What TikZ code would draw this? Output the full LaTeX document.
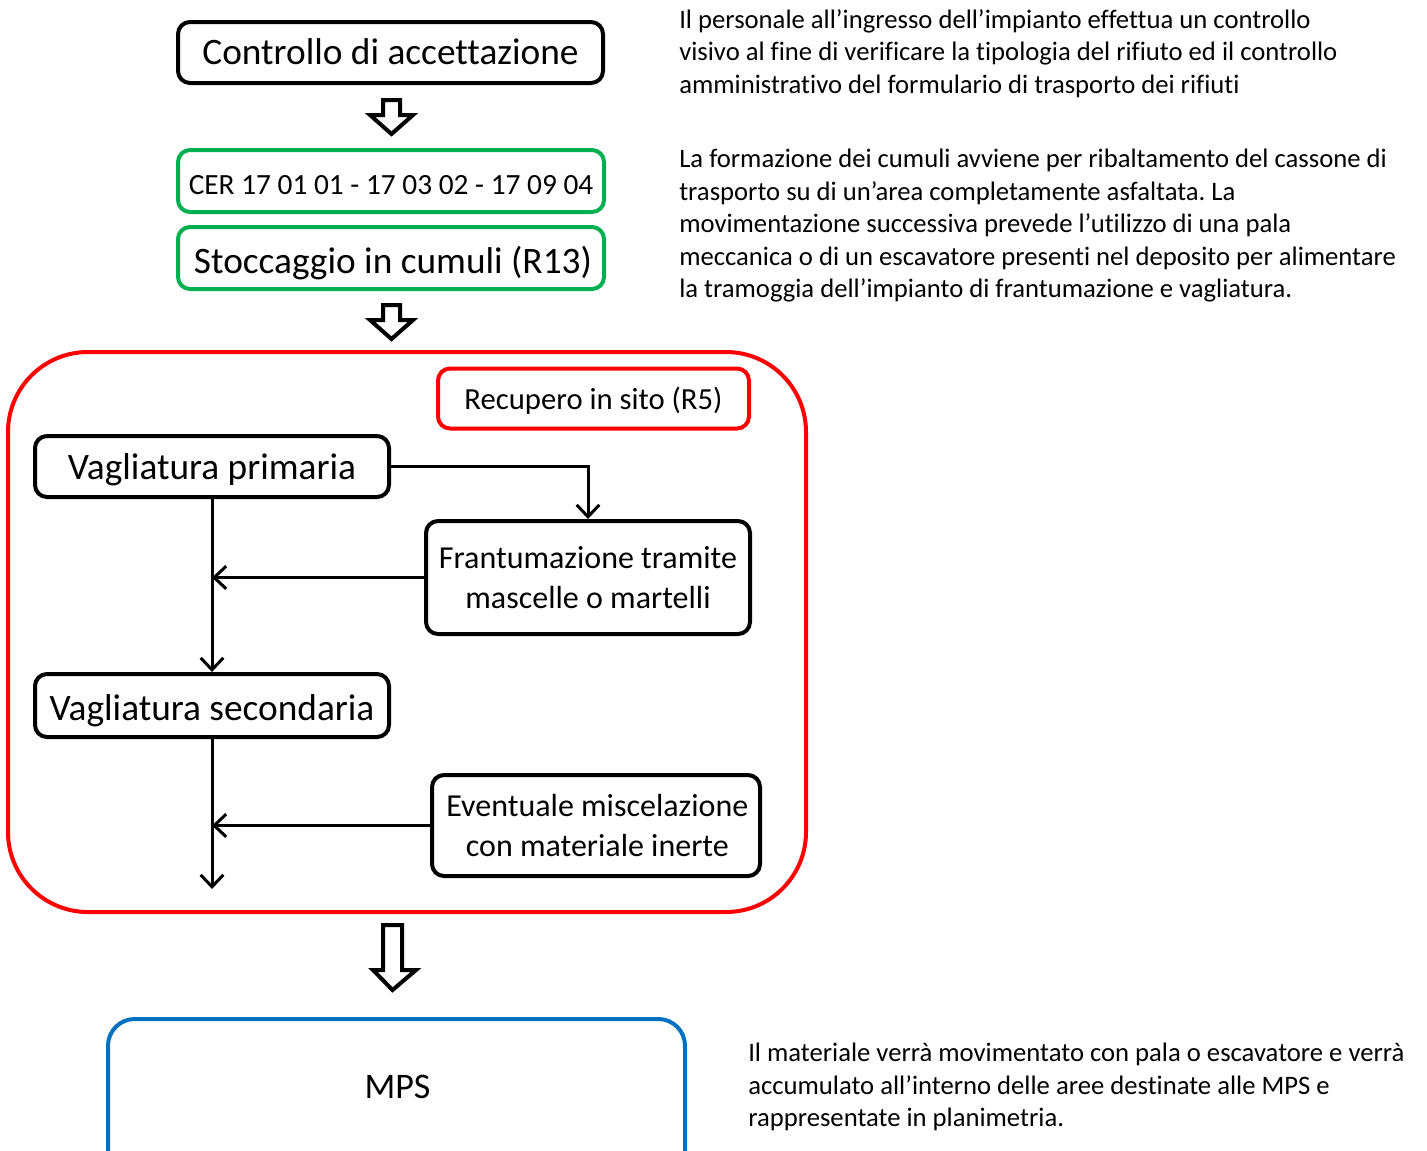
\documentclass[tikz,border=0pt]{standalone}
\usepackage{fontspec}
\setmainfont{Carlito}[Ligatures={NoCommon}]
\usetikzlibrary{arrows.meta}
\definecolor{cgreen}{RGB}{0,176,80}
\definecolor{cred}{RGB}{255,0,0}
\definecolor{cblue}{RGB}{0,112,192}
\frenchspacing
\begin{document}
\begin{tikzpicture}[x=0.75pt,y=-0.75pt,
  box/.style={draw=black,line width=3pt,rounded corners=9pt,inner sep=0pt,align=center},
  gbox/.style={box,draw=cgreen},
  rbox/.style={box,draw=cred},
  conn/.style={line width=2.25pt,-{Straight Barb[length=9pt,width=17pt,line width=2.25pt]}},
  blockarrow/.style={draw=black,fill=white,line width=3pt,line join=miter},
  para/.style={anchor=north west,inner sep=0pt,align=left,font=\fontsize{20pt}{24.4pt}\selectfont}]
\useasboundingbox (0,0) rectangle (1427,1150);
\clip (0,0) rectangle (1427,1150);
% top boxes
\node[box,minimum width=318.75pt,minimum height=45.75pt,text height=17.25pt,text depth=0pt,font=\fontsize{28pt}{33pt}\selectfont] (ctrl) at (390.5,52.5) {Controllo di accettazione};
\node[gbox,minimum width=319.5pt,minimum height=46.5pt,text height=20.25pt,text depth=0pt,font=\fontsize{22pt}{26pt}\selectfont] (cer) at (391,181) {CER 17 01 01 - 17 03 02 - 17 09 04};
\node[gbox,minimum width=319.5pt,minimum height=46.5pt,text height=22.5pt,text depth=0pt,font=\fontsize{28pt}{33pt}\selectfont] (stoc) at (391,258) {\hspace*{3pt}Stoccaggio in cumuli (R13)};
% block arrows
\draw[blockarrow] (383,100) -- (400,100) -- (400,115) -- (413,115) -- (391.5,134) -- (370,115) -- (383,115) -- cycle;
\draw[blockarrow] (383,305) -- (400,305) -- (400,320) -- (413,320) -- (391.5,339) -- (370,320) -- (383,320) -- cycle;
% red container
\draw[cred,line width=3pt,rounded corners=60pt] (8,352) rectangle (806,912);
\node[rbox,minimum width=233.25pt,minimum height=45pt,text height=16.5pt,text depth=0pt,font=\fontsize{23pt}{27pt}\selectfont] (rec) at (593.5,398.5) {Recupero in sito (R5)};
\node[box,minimum width=265.5pt,minimum height=45.75pt,text height=19.5pt,text depth=0pt,font=\fontsize{28pt}{33pt}\selectfont] (vp) at (212,466.5) {Vagliatura primaria};
\node[box,minimum width=243pt,minimum height=84.75pt,font=\fontsize{24pt}{29.5pt}\selectfont] (fr) at (588,577.5) {Frantumazione tramite\\mascelle o martelli};
\node[box,minimum width=265.5pt,minimum height=47.25pt,text height=22.5pt,text depth=0pt,font=\fontsize{28pt}{33pt}\selectfont] (vs) at (212,705.5) {Vagliatura secondaria};
\node[box,minimum width=246pt,minimum height=75.75pt,font=\fontsize{24pt}{29.5pt}\selectfont] (ev) at (596,825.5) {\hspace*{2pt}Eventuale miscelazione\\\hspace*{2pt}con materiale inerte};
\coordinate (end) at (212,889);
% connectors
\draw[conn] (vp.east) -| (fr.north);
\draw[conn] (vp.south) -- (vs.north);
\draw[conn] (fr.west) -- (vp.south |- fr.west);
\draw[conn] (vs.south) -- (end);
\draw[conn] (ev.west) -- (vs.south |- ev.west);
% big block arrow
\draw[blockarrow] (383,925) -- (402,925) -- (402,970) -- (416,970) -- (392.5,990) -- (373,970) -- (383,970) -- cycle;
% MPS
\draw[cblue,line width=3pt,rounded corners=20pt] (108,1170) -- (108,1019) -- (685,1019) -- (685,1170);
\node[inner sep=0pt,font=\fontsize{27pt}{32pt}\selectfont] (mps) at (397.5,1087) {MPS};
% descriptions
\node[para] (t1) at (679,9) {Il personale all’ingresso dell’impianto effettua un controllo\\visivo al fine di verificare la tipologia del rifiuto ed il controllo\\amministrativo del formulario di trasporto dei rifiuti};
\node[para] (t2) at (679,149) {La formazione dei cumuli avviene per ribaltamento del cassone di\\trasporto su di un’area completamente asfaltata. La\\movimentazione successiva prevede l’utilizzo di una pala\\meccanica o di un escavatore presenti nel deposito per alimentare\\la tramoggia dell’impianto di frantumazione e vagliatura.};
\node[para] (t3) at (748,1043) {Il materiale verrà movimentato con pala o escavatore e verrà\\accumulato all’interno delle aree destinate alle MPS e\\rappresentate in planimetria.};
\end{tikzpicture}
\end{document}
